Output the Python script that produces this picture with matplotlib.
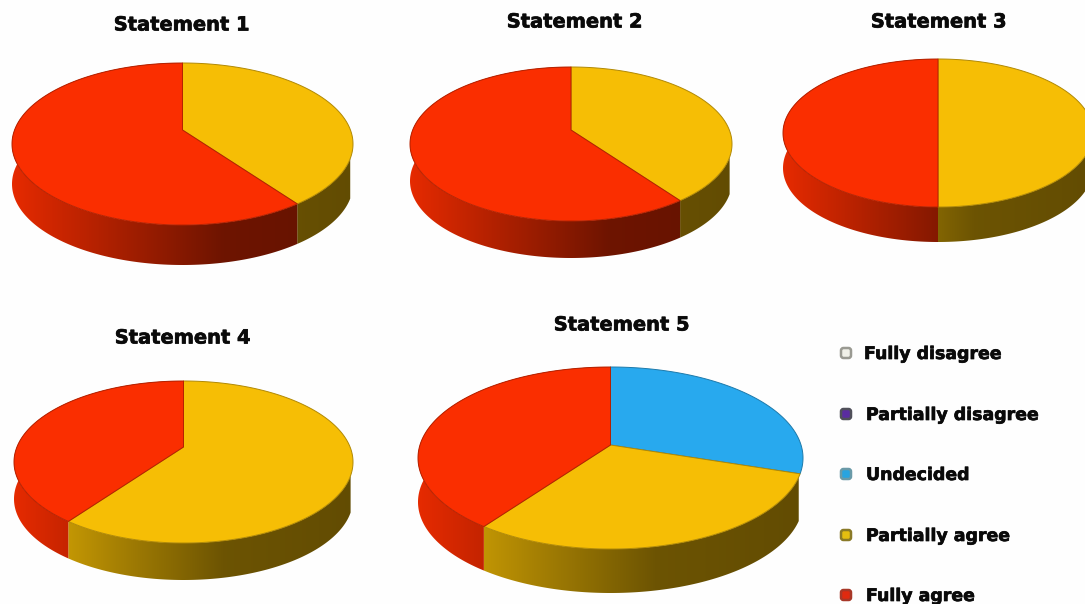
import numpy as np
import matplotlib
matplotlib.use("Agg")
import matplotlib.pyplot as plt
from matplotlib.patches import Polygon, FancyBboxPatch
import matplotlib.patheffects as pe

# ---- data -------------------------------------------------------------
statements = ["Statement 1", "Statement 2", "Statement 3", "Statement 4", "Statement 5"]
categories = ["Fully disagree", "Partially disagree", "Undecided", "Partially agree", "Fully agree"]
fully_disagree = [0, 0, 0, 0, 0]
partially_disagree = [0, 0, 0, 0, 0]
undecided = [0, 0, 0, 0, 30]
partially_agree = [40, 40, 50, 60, 30]
fully_agree = [60, 60, 50, 40, 40]

# ---- style / layout (pixels) ------------------------------------------
top_colors = ["#F2F2EA", "#5B2CA0", "#28A9EE", "#F6BE05", "#FA2E00"]
marker_faces = ["#F0F0E8", "#5A2CA0", "#28A4E0", "#E4BE10", "#E02A10"]
marker_edges = ["#9A9A92", "#50505A", "#6A9AA8", "#8A7A28", "#A83828"]
# left, right, top, apex y, bottom of top ellipse, wall depth
pie_boxes = [(12, 353, 63, 130, 225, 40),
             (410, 732, 67, 130, 221, 37),
             (783, 1093, 59, 120, 207, 35),
             (14, 353, 381, 447, 543, 37),
             (418, 803, 367, 445, 549, 44)]
title_xy = [(182, 25), (575, 22), (939, 22), (183, 338), (622, 325)]
legend_marker_xy = [(846, 353), (846, 414), (846, 474), (846, 535), (846, 595)]
legend_text_xy = [(864, 354), (866, 415), (866, 475), (866, 536), (866, 596)]
wall_start = np.deg2rad(110)

W, H = 1085, 604
fig = plt.figure(figsize=(W / 100, H / 100), dpi=100, facecolor="#FEFEFE")
ax = fig.add_axes([0, 0, 1, 1])
ax.set_axis_off()
heavy = [pe.withStroke(linewidth=0.5, foreground="#0A0A0A")]


def rim(box, theta):
    """Rim points of a tilted disc; theta is clockwise from 12 o'clock."""
    left, right, top, apex, bottom, _ = box
    up, down = apex - top, bottom - apex
    k = (down - up) / (down + up)
    b = up * (1 + k)
    a = (right - left) / 2 * np.sqrt(1 - k * k)
    u, v = np.sin(theta), np.cos(theta)
    w = 1 + k * v
    return (left + right) / 2 + a * u / w, apex - b * v / w


def wall_shade(frac):
    return np.interp(frac, [0.0, 0.3, 0.62, 1.0], [0.92, 0.68, 0.44, 0.40])


series = np.array([fully_disagree, partially_disagree, undecided,
                   partially_agree, fully_agree], dtype=float)

for i, box in enumerate(pie_boxes):
    left, right, top, apex, bottom, depth = box
    shares = series[:, i] / series[:, i].sum()
    edges = np.concatenate([[0], np.cumsum(shares)]) * 2 * np.pi
    cx = (left + right) / 2

    # walls (only the part of the rim that faces the viewer)
    for j, col in enumerate(top_colors):
        start = max(edges[j], wall_start)
        if shares[j] == 0 or edges[j + 1] <= start:
            continue
        t = np.linspace(start, edges[j + 1], 200)
        x, y = rim(box, t)
        pts = np.vstack([np.column_stack([x, y]),
                         np.column_stack([x[::-1], y[::-1] + depth])])
        frac = np.linspace(0, 1, 400)
        rgb = np.array(matplotlib.colors.to_rgb(col))
        grad = (wall_shade(frac)[:, None] * rgb)[None, :, :]
        im = ax.imshow(grad, extent=(left, right, bottom + depth, top),
                       aspect="auto", interpolation="bilinear", zorder=2)
        clip = Polygon(pts, closed=True, transform=ax.transData,
                       facecolor="none", edgecolor="none")
        ax.add_patch(clip)
        im.set_clip_path(clip)

    # top surface
    for j, col in enumerate(top_colors):
        if shares[j] == 0:
            continue
        t = np.linspace(edges[j], edges[j + 1], 200)
        x, y = rim(box, t)
        pts = np.vstack([[cx, apex], np.column_stack([x, y])])
        dark = tuple(0.72 * c for c in matplotlib.colors.to_rgb(col))
        ax.add_patch(Polygon(pts, closed=True, facecolor=col, edgecolor=dark,
                             linewidth=0.7, joinstyle="round", zorder=3))

    ax.text(*title_xy[i], statements[i], ha="center", va="center",
            fontsize=14, fontweight="bold", family="DejaVu Sans",
            color="#0A0A0A", zorder=5, path_effects=heavy)

# legend
for j, name in enumerate(categories):
    mx, my = legend_marker_xy[j]
    ax.add_patch(FancyBboxPatch((mx - 5, my - 5), 10, 10,
                                boxstyle="round,pad=0,rounding_size=2.5",
                                mutation_aspect=1,
                                facecolor=marker_faces[j], edgecolor=marker_edges[j],
                                linewidth=1.8, zorder=4))
    ax.text(*legend_text_xy[j], name, ha="left", va="center", fontsize=12.5,
            fontweight="bold", family="DejaVu Sans", color="#0A0A0A", zorder=5,
            path_effects=heavy)

ax.set_xlim(0, W)
ax.set_ylim(H, 0)
fig.savefig("out.png", dpi=100, facecolor=fig.get_facecolor())
